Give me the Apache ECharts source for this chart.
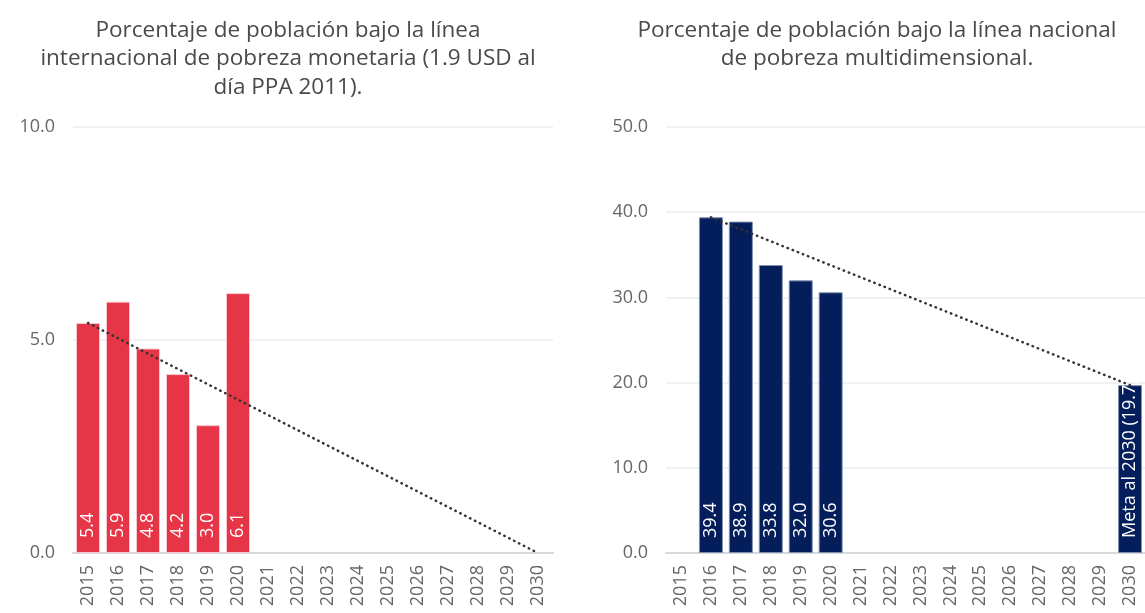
<!DOCTYPE html>
<html><head><meta charset="utf-8">
<script src="https://cdn.jsdelivr.net/npm/echarts@6/dist/echarts.min.js"></script>
<style>html,body{margin:0;padding:0;background:#fff}#c{width:1145px;height:613px}</style>
</head><body><div id="c"></div>
<script>
const years = ['2015','2016','2017','2018','2019','2020','2021','2022','2023','2024','2025','2026','2027','2028','2029','2030'];
const monetaria = [5.4, 5.9, 4.8, 4.2, 3.0, 6.1, null, null, null, null, null, null, null, null, null, null];
const monetariaTrend = [5.4, null, null, null, null, null, null, null, null, null, null, null, null, null, null, 0];
const multidim = [null, 39.4, 38.9, 33.8, 32.0, 30.6, null, null, null, null, null, null, null, null, null, 19.7];
const multidimTrend = [null, 39.4, null, null, null, null, null, null, null, null, null, null, null, null, null, 19.7];
const leftTicks = {min: 0, max: 10, interval: 5};
const rightTicks = {min: 0, max: 50, interval: 10};
const titleLeft = 'Porcentaje de población bajo la línea\ninternacional de pobreza monetaria (1.9 USD al\ndía PPA 2011).';
const titleRight = 'Porcentaje de población bajo la línea nacional\nde pobreza multidimensional.';

const FONT = 'Open Sans';
const chart = echarts.init(document.getElementById('c'), null, {renderer: 'canvas'});
function xAxis(i) {
  return {
    type: 'category', gridIndex: i, data: years,
    axisTick: {show: false},
    axisLine: {lineStyle: {color: '#d9d9d9', width: 2}},
    axisLabel: {rotate: 90, color: '#666', fontSize: 18, fontFamily: FONT, margin: 12, interval: 0}
  };
}
function yAxis(i, t) {
  return {
    type: 'value', gridIndex: i, min: t.min, max: t.max, interval: t.interval,
    axisLine: {show: false}, axisTick: {show: false},
    splitLine: {lineStyle: {color: '#eef2f7', width: 2}},
    axisLabel: {color: '#666', fontSize: 18, fontFamily: FONT, margin: 18, formatter: v => v.toFixed(1)}
  };
}
const barLabel = (fmt) => ({
  show: true, position: 'insideBottom', rotate: 90, align: 'left', verticalAlign: 'middle',
  distance: 15, color: '#fff', fontSize: 18, fontFamily: FONT, formatter: fmt
});
const trendStyle = {color: '#333', width: 2.5, type: [0.5, 5], cap: 'round'};
chart.setOption({
  animation: false,
  title: [
    {text: titleLeft, left: 283, top: 11, textAlign: 'center',
     textStyle: {color: '#4a4a4a', fontSize: 22.5, fontWeight: 'normal', fontFamily: FONT, lineHeight: 28.5}},
    {text: titleRight, left: 872, top: 11, textAlign: 'center',
     textStyle: {color: '#4a4a4a', fontSize: 22.5, fontWeight: 'normal', fontFamily: FONT, lineHeight: 28.5}}
  ],
  grid: [
    {left: 73, width: 480, top: 127, bottom: 60},
    {left: 666, width: 480, top: 127, bottom: 60}
  ],
  xAxis: [xAxis(0), xAxis(1)],
  yAxis: [yAxis(0, leftTicks), yAxis(1, rightTicks)],
  series: [
    {type: 'bar', xAxisIndex: 0, yAxisIndex: 0, data: monetaria, barWidth: 24,
     itemStyle: {color: '#e63547', borderColor: '#f7c5cb', borderWidth: 1},
     label: barLabel(p => p.value.toFixed(1))},
    {type: 'line', xAxisIndex: 0, yAxisIndex: 0, data: monetariaTrend, connectNulls: true,
     symbol: 'none', lineStyle: trendStyle, z: 5},
    {type: 'bar', xAxisIndex: 1, yAxisIndex: 1, data: multidim, barWidth: 24,
     itemStyle: {color: '#041e5b', borderColor: '#8090b0', borderWidth: 1},
     label: barLabel(p => p.dataIndex === years.length - 1 ? 'Meta al 2030 (' + p.value.toFixed(1) + ')' : p.value.toFixed(1))},
    {type: 'line', xAxisIndex: 1, yAxisIndex: 1, data: multidimTrend, connectNulls: true,
     symbol: 'none', lineStyle: trendStyle, z: 5}
  ]
});
</script></body></html>
